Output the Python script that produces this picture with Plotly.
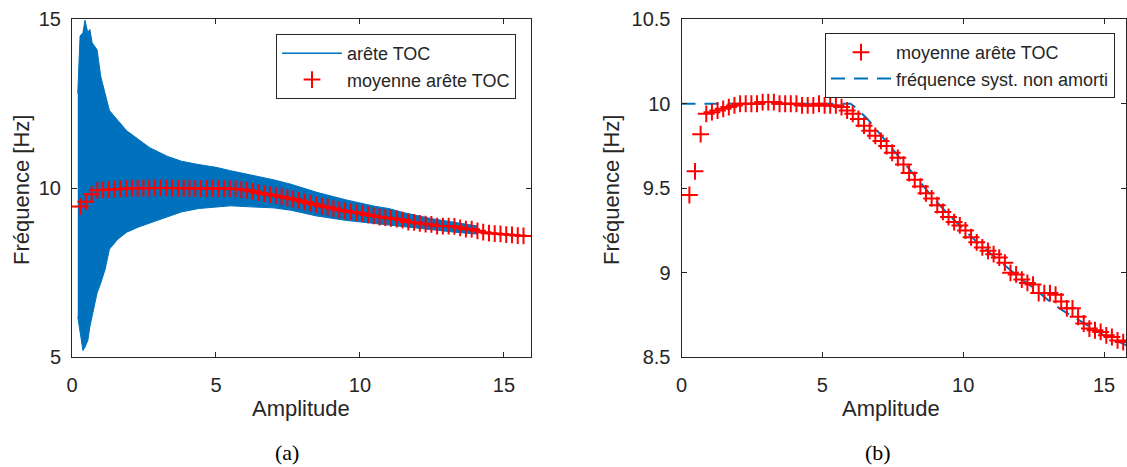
import plotly.graph_objects as go

# ---------------- data ----------------
amplitude = [0.28, 0.48, 0.68, 0.88, 1.08, 1.28, 1.48, 1.68, 1.88, 2.08,
             2.28, 2.48, 2.68, 2.88, 3.08, 3.28, 3.48, 3.68, 3.88, 4.08,
             4.28, 4.48, 4.68, 4.88, 5.08, 5.28, 5.48, 5.68, 5.88, 6.08,
             6.28, 6.48, 6.68, 6.88, 7.08, 7.28, 7.48, 7.68, 7.88, 8.08,
             8.28, 8.48, 8.68, 8.88, 9.08, 9.28, 9.48, 9.68, 9.88, 10.08,
             10.28, 10.48, 10.68, 10.88, 11.08, 11.28, 11.48, 11.68, 11.88, 12.08,
             12.28, 12.48, 12.68, 12.88, 13.08, 13.28, 13.48, 13.68, 13.88, 14.08,
             14.28, 14.48, 14.68, 14.88, 15.08, 15.28, 15.48, 15.68]
freq_moyenne = [9.46, 9.60, 9.82, 9.94, 9.95, 9.96, 9.97, 9.98, 9.99, 10.0,
                10.0, 10.0, 10.0, 10.01, 10.01, 10.01, 10.0, 10.0, 10.0, 10.0,
                9.99, 9.99, 9.99, 10.0, 9.99, 9.99, 9.99, 9.98, 9.96, 9.94,
                9.91, 9.87, 9.84, 9.81, 9.78, 9.75, 9.71, 9.68, 9.64, 9.59,
                9.55, 9.51, 9.47, 9.44, 9.40, 9.36, 9.33, 9.30, 9.28, 9.25,
                9.21, 9.18, 9.15, 9.13, 9.11, 9.09, 9.06, 9.00, 8.99, 8.96,
                8.94, 8.93, 8.88, 8.88, 8.88, 8.87, 8.83, 8.79, 8.79, 8.74,
                8.70, 8.67, 8.66, 8.65, 8.63, 8.62, 8.60, 8.59]

# envelope of the "arête TOC" cloud (left panel)
amp_enveloppe = [0.2, 0.28, 0.38, 0.45, 0.55, 0.62, 0.7, 0.87, 1.0, 1.15,
                 1.3, 1.6, 1.9, 2.3, 2.7, 3.3, 3.8, 4.4, 5.0, 5.5,
                 6.2, 7.0, 7.6, 8.5, 9.5, 10.5, 11.0, 11.5, 12.5, 13.3, 14.1]
freq_haut = [12.8, 14.5, 14.6, 14.97, 14.6, 14.7, 14.3, 14.1, 13.3, 12.8,
             12.3, 12.0, 11.7, 11.45, 11.2, 10.95, 10.8, 10.7, 10.62, 10.52,
             10.4, 10.25, 10.12, 9.88, 9.66, 9.47, 9.4, 9.28, 9.1, 8.99, 8.88]
freq_bas = [6.2, 5.8, 5.2, 5.3, 5.5, 5.9, 6.2, 6.9, 7.2, 7.6,
            8.2, 8.5, 8.7, 8.85, 8.97, 9.15, 9.3, 9.4, 9.45, 9.48,
            9.45, 9.42, 9.35, 9.18, 9.05, 8.96, 8.9, 8.85, 8.76, 8.7, 8.64]

# undamped-system frequency (right panel, dashed)
amp_non_amorti = [0.0, 1.0, 2.0, 3.0, 4.0, 5.0, 6.0, 6.2, 6.6, 7.0,
                  7.5, 8.0, 8.5, 9.0, 9.5, 10.0, 10.5, 11.0, 11.5, 12.0,
                  12.5, 13.0, 13.5, 14.0, 14.5, 15.0, 15.8]
freq_non_amorti = [10.0, 10.0, 10.0, 10.0, 10.0, 10.0, 10.0, 9.975, 9.91, 9.83,
                   9.73, 9.63, 9.53, 9.43, 9.34, 9.26, 9.18, 9.11, 9.04, 8.97,
                   8.91, 8.84, 8.78, 8.73, 8.68, 8.63, 8.57]

x_ticks = [0, 5, 10, 15]
y_ticks_a = [5, 10, 15]
y_ticks_b = [8.5, 9, 9.5, 10, 10.5]
y_ticklabels_b = ["8.5", "9", "9.5", "10", "10.5"]

# ---------------- styling ----------------
W, H = 1127, 467
BLUE = "#0072BD"
RED = "#FF0000"
INK = "#262626"
SANS = "Liberation Sans, Arial, sans-serif"
SERIF = "Liberation Serif, Times New Roman, serif"


def px_x(p):
    return p / W


def px_y(p):
    return 1 - p / H


fig = go.Figure()

# left panel: cloud
fig.add_trace(go.Scatter(x=amp_enveloppe, y=freq_bas, mode="lines",
                         line=dict(color=BLUE, width=1), showlegend=False,
                         hoverinfo="skip", xaxis="x", yaxis="y"))
fig.add_trace(go.Scatter(x=amp_enveloppe, y=freq_haut, mode="lines",
                         line=dict(color=BLUE, width=1), fill="tonexty",
                         fillcolor=BLUE, showlegend=False, hoverinfo="skip",
                         xaxis="x", yaxis="y"))
fig.add_trace(go.Scatter(x=[None], y=[None], mode="lines",
                         line=dict(color=BLUE, width=1.5), name="arête TOC",
                         legend="legend", legendrank=1, xaxis="x", yaxis="y"))
marker_style = dict(symbol="cross-thin", size=12, color=RED,
                    line=dict(color=RED, width=2))
fig.add_trace(go.Scatter(x=amplitude, y=freq_moyenne, mode="markers",
                         marker=marker_style, name="moyenne arête TOC",
                         legend="legend", legendrank=2, xaxis="x", yaxis="y"))

# right panel
fig.add_trace(go.Scatter(x=amp_non_amorti, y=freq_non_amorti, mode="lines",
                         line=dict(color=BLUE, width=2, dash="14px,9px"),
                         name="fréquence syst. non amorti", legend="legend2",
                         legendrank=2, xaxis="x2", yaxis="y2"))
fig.add_trace(go.Scatter(x=amplitude, y=freq_moyenne, mode="markers",
                         marker=marker_style, name="moyenne arête TOC",
                         legend="legend2", legendrank=1, xaxis="x2", yaxis="y2"))

axis_common = dict(showline=True, linecolor=INK, linewidth=1, mirror="ticks",
                   ticks="inside", ticklen=5, tickcolor=INK, tickwidth=1,
                   tickfont=dict(family=SANS, size=20, color=INK),
                   showgrid=False, zeroline=False, automargin=False)

y_dom = [px_y(357.3), px_y(19.2)]

legend_common = dict(xanchor="right", yanchor="top", bgcolor="white",
                     bordercolor=INK, borderwidth=1, traceorder="normal",
                     itemwidth=60, font=dict(family=SANS, size=18, color=INK))

fig.update_layout(
    width=W, height=H,
    margin=dict(l=0, r=0, t=0, b=0, pad=0, autoexpand=False),
    paper_bgcolor="white", plot_bgcolor="white",
    xaxis=dict(domain=[px_x(72), px_x(531)], range=[0, 15.94], tickvals=x_ticks,
               anchor="y", ticklabelstandoff=10, **axis_common),
    yaxis=dict(domain=y_dom, range=[5, 15], tickvals=y_ticks_a, anchor="x",
               ticklabelstandoff=6, **axis_common),
    xaxis2=dict(domain=[px_x(681.5), px_x(1126)], range=[0, 15.78],
                tickvals=x_ticks, anchor="y2", ticklabelstandoff=10, **axis_common),
    yaxis2=dict(domain=y_dom, range=[8.5, 10.5], tickvals=y_ticks_b,
                ticktext=y_ticklabels_b, anchor="x2", ticklabelstandoff=6,
                **axis_common),
    legend=dict(x=px_x(516), y=px_y(34), **legend_common),
    legend2=dict(x=px_x(1115), y=px_y(33), **legend_common),
    showlegend=True,
)

ann_font = dict(family=SANS, size=22, color=INK)
annotations = [
    dict(text="Fréquence [Hz]", x=px_x(22), y=px_y(190), textangle=-90),
    dict(text="Fréquence [Hz]", x=px_x(612), y=px_y(190), textangle=-90),
    dict(text="Amplitude", x=px_x(301), y=px_y(408)),
    dict(text="Amplitude", x=px_x(891), y=px_y(408)),
]
for a in annotations:
    fig.add_annotation(xref="paper", yref="paper", showarrow=False,
                       xanchor="center", yanchor="middle", font=ann_font, **a)
for txt, cx in [("(a)", 287), ("(b)", 878)]:
    fig.add_annotation(text=txt, xref="paper", yref="paper", x=px_x(cx),
                       y=px_y(452), showarrow=False, xanchor="center",
                       yanchor="middle",
                       font=dict(family=SERIF, size=22, color="black"))

fig.write_html(
    "out.html",
    config={"displayModeBar": False},
    post_script="document.body.style.margin='0';document.body.style.overflow='hidden';",
)
